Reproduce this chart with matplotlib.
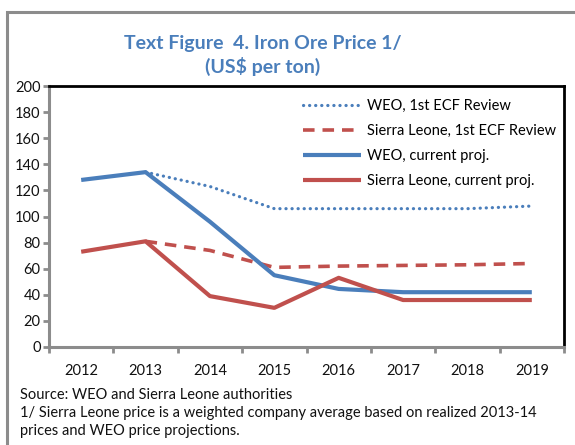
import numpy as np
import matplotlib.pyplot as plt
from matplotlib.patches import Rectangle

years = ['2012', '2013', '2014', '2015', '2016', '2017', '2018', '2019']
weo_ecf = [np.nan, 134, 123, 106, 106, 106, 106, 108]
sl_ecf = [np.nan, 81, 74, 61, 62, 62.5, 63, 64]
weo_cur = [128, 134, 96, 55, 44.5, 42, 42, 42]
sl_cur = [73, 81, 39, 30, 53, 36, 36, 36]

blue = '#4a7ebb'
red = '#c0504d'
gray = '#8c8c8c'
font = 'Lato'

fig = plt.figure(figsize=(5.75, 4.45), dpi=100)

# outer chart frame
fig.patches.append(Rectangle((7/575, -0.1), 1.2, 1 - 12/445 + 0.1, transform=fig.transFigure,
                             fill=False, edgecolor=gray, linewidth=2.2))

ax = fig.add_axes([49/575, 1 - 347/445, (564 - 49)/575, (347 - 86)/445])
x = np.arange(len(years))

ax.plot(x, weo_ecf, color=blue, lw=2.3, linestyle=(0, (0.05, 1.85)), dash_capstyle='round',
        label='WEO, 1st ECF Review')
ax.plot(x, sl_ecf, color=red, lw=2.6, linestyle=(0, (3.2, 2.2)), label='Sierra Leone, 1st ECF Review')
ax.plot(x, weo_cur, color=blue, lw=3, solid_capstyle='butt', label='WEO, current proj.')
ax.plot(x, sl_cur, color=red, lw=3, solid_capstyle='butt', label='Sierra Leone, current proj.')

ax.set_xlim(-0.5, len(years) - 0.5)
ax.set_ylim(0, 200)
ax.set_yticks(np.arange(0, 201, 20))
ax.set_xticks(x)
ax.set_xticklabels(years)
ax.set_xticks(np.arange(-0.5, len(years), 1), minor=True)
ax.tick_params(axis='x', which='major', length=0, pad=12)
ax.tick_params(axis='x', which='minor', length=4, width=2, color=gray)
ax.tick_params(axis='y', length=4, width=2, color=gray, pad=2)
for lab in ax.get_xticklabels() + ax.get_yticklabels():
    lab.set_fontfamily(font)
    lab.set_fontsize(10.5)
    lab.set_color('#111111')

for side in ['top', 'right']:
    ax.spines[side].set_color('black')
    ax.spines[side].set_linewidth(2)
for side in ['left', 'bottom']:
    ax.spines[side].set_color(gray)
    ax.spines[side].set_linewidth(2.2)

leg = ax.legend(loc='upper right', bbox_to_anchor=(1.01, 1.0), frameon=False,
                prop={'family': font, 'size': 10.5}, handlelength=4.0, handletextpad=0.4,
                labelspacing=0.75)

fig.text(263/575, 1 - 43/445, 'Text Figure  4. Iron Ore Price 1/', ha='center', va='center',
         color=blue, fontsize=14, fontweight='bold', family=font)
fig.text(263/575, 1 - 66/445, '(US$ per ton)', ha='center', va='center',
         color=blue, fontsize=14, fontweight='bold', family=font)

notes = ['Source: WEO and Sierra Leone authorities',
         '1/ Sierra Leone price is a weighted company average based on realized 2013-14',
         'prices and WEO price projections.']
for i, t in enumerate(notes):
    fig.text(20/575, 1 - (395 + 18 * i)/445, t, ha='left', va='center',
             fontsize=10.5, family=font, color='#111111')

fig.savefig('out.png', dpi=100)
